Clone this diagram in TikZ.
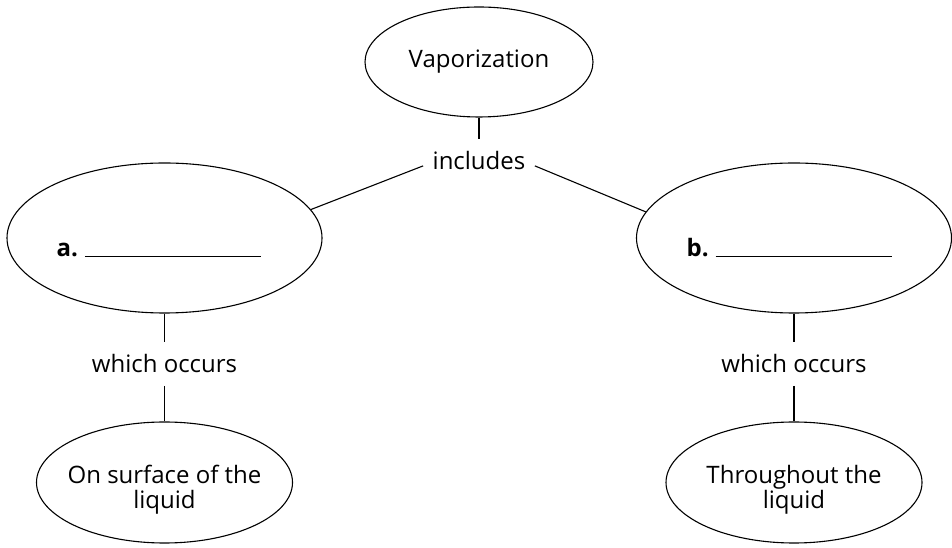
\documentclass[tikz,border=0pt]{standalone}
\usepackage{fontspec}
\setmainfont{Open Sans}
\usetikzlibrary{shapes.geometric,positioning}

\begin{document}
\begin{tikzpicture}[
  x = 1pt, y = 1pt,
  line width = 1.1pt,
  font = \fontsize{24}{25}\selectfont,
  base/.style = {
    ellipse,
    draw,
    inner sep=0pt,
    minimum width=#1,
    align=center
  },
  bubble/.style = {base=228pt, minimum height=110pt},
  bigbubble/.style = {base=315pt, minimum height=150pt},
  leaf/.style = {base=256pt, minimum height=121pt, inner xsep=-40pt},
  link/.style = {inner xsep=9pt, inner ysep=12pt, anchor=base},
  blank/.style = {anchor=base west, inner sep=0pt},
  ]
  \useasboundingbox (0,0) rectangle (952,548);
  % top of the map
  \node[bubble] (vapor) at (479,486) {Vaporization};
  \node[link] (includes) at (479,378) {includes};
  % the two kinds
  \node[bigbubble] (evap) at (164.5,310) {};
  \node[bigbubble] (boil) at (794,310) {};
  \node[blank] (evapN) at (56,291) {\textbf{a.}\hspace{7pt}\rule{176pt}{1.1pt}};
  \node[blank] (boilN) at (686,291) {\textbf{b.}\hspace{7pt}\rule{176pt}{1.1pt}};
  % where they occur
  \node[link] (occursL) at (164.5,175) {which occurs};
  \node[link] (occursR) at (794,175) {which occurs};
  \node[leaf] (surface) at (164.5,65.5) {\rule{0pt}{32pt}On surface of the\\liquid};
  \node[leaf] (throughout) at (794,65.5) {\rule{0pt}{32pt}Throughout the\\liquid};
  \draw (vapor) -- (includes);
  \draw (includes.185) -- (evap.11);
  \draw (includes.355) -- (boil.170);
  \draw (evap) -- (occursL);
  \draw (occursL) -- (surface);
  \draw (boil) -- (occursR);
  \draw (occursR) -- (throughout);
\end{tikzpicture}
\end{document}
